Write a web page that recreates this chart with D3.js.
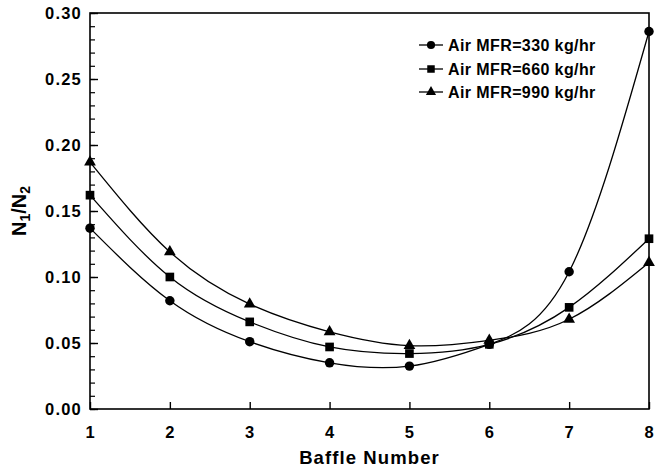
<!DOCTYPE html>
<html><head><meta charset="utf-8">
<script src="https://cdn.jsdelivr.net/npm/d3@7"></script>
<style>body{margin:0;background:#fff}svg{display:block}text{font-family:"Liberation Sans",Arial,sans-serif;font-weight:bold;fill:#000}</style>
</head><body><svg id="c" width="656" height="470"></svg>
<script>
const baffles = [1,2,3,4,5,6,7,8];
const mfr330 = [0.137,0.082,0.051,0.035,0.0325,0.049,0.104,0.286];
const mfr660 = [0.162,0.100,0.066,0.047,0.042,0.049,0.077,0.129];
const mfr990 = [0.187,0.119,0.0795,0.0585,0.048,0.052,0.068,0.111];
const seriesNames = ["Air MFR=330 kg/hr","Air MFR=660 kg/hr","Air MFR=990 kg/hr"];
const seriesSymbols = ["circle","square","triangle"];
const yMajorTicks = [0,0.05,0.10,0.15,0.20,0.25,0.30];

const svg = d3.select("#c");
const L=90,R=649,T=13,B=409;
const x = d3.scaleLinear().domain([1,8]).range([L,R]);
const y = d3.scaleLinear().domain([0,0.30]).range([B,T]);

// frame
svg.append("rect").attr("x",L).attr("y",T).attr("width",R-L).attr("height",B-T)
  .attr("fill","none").attr("stroke","#000").attr("stroke-width",1.6);

// y axis
const yAx = svg.append("g").attr("transform",`translate(${L},0)`)
  .call(d3.axisRight(y).tickValues(d3.range(0,0.3001,0.01)).tickSize(5).tickFormat(""));
yAx.select(".domain").remove();
yAx.selectAll("line").attr("stroke","#000").attr("stroke-width",1.2);
const yMaj = svg.append("g").attr("transform",`translate(${L},0)`)
  .call(d3.axisRight(y).tickValues(yMajorTicks).tickSize(8).tickFormat(""));
yMaj.select(".domain").remove();
yMaj.selectAll("line").attr("stroke","#000").attr("stroke-width",1.4);
svg.append("g").selectAll("text").data(yMajorTicks).join("text")
  .attr("x",L-8).attr("y",d=>y(d)).attr("dy","0.36em").attr("text-anchor","end")
  .attr("font-size",16.5).attr("letter-spacing",1.2).text(d=>d3.format(".2f")(d));

// x axis
const xAx = svg.append("g").attr("transform",`translate(0,${B})`)
  .call(d3.axisTop(x).tickValues(baffles).tickSize(7).tickFormat(""));
xAx.select(".domain").remove();
xAx.selectAll("line").attr("stroke","#000").attr("stroke-width",1.4);
svg.append("g").selectAll("text").data(baffles).join("text")
  .attr("x",d=>x(d)).attr("y",432).attr("dy","0.36em").attr("text-anchor","middle")
  .attr("font-size",16.5).text(d=>d);

svg.append("text").attr("x",(L+R)/2).attr("y",457).attr("dy","0.36em")
  .attr("text-anchor","middle").attr("font-size",18.5).attr("letter-spacing",1.1).text("Baffle Number");

const yl = svg.append("text").attr("transform","translate(26,211) rotate(-90)")
  .attr("text-anchor","middle").attr("font-size",20);
yl.append("tspan").text("N");
yl.append("tspan").attr("font-size",14).attr("dy",4).text("1");
yl.append("tspan").attr("dy",-4).text("/N");
yl.append("tspan").attr("font-size",14).attr("dy",4).text("2");

// series
const data = [mfr330,mfr660,mfr990];
const line = d3.line().x((d,i)=>x(baffles[i])).y(d=>y(d)).curve(d3.curveNatural);
const symType = {circle:d3.symbolCircle,square:d3.symbolSquare,triangle:d3.symbolTriangle};
const symSize = {circle:70,square:75,triangle:60};
data.forEach((vals,k)=>{
  svg.append("path").attr("d",line(vals)).attr("fill","none").attr("stroke","#000").attr("stroke-width",1.3);
  svg.append("g").selectAll("path").data(vals).join("path")
    .attr("transform",(d,i)=>`translate(${x(baffles[i])},${y(d)})`)
    .attr("d",d3.symbol().type(symType[seriesSymbols[k]]).size(symSize[seriesSymbols[k]]))
    .attr("fill","#000");
});

// legend
const legY=[45,69,92];
seriesNames.forEach((n,k)=>{
  const g = svg.append("g");
  g.append("line").attr("x1",419).attr("x2",443).attr("y1",legY[k]).attr("y2",legY[k]).attr("stroke","#000").attr("stroke-width",1.3);
  g.append("path").attr("transform",`translate(431,${legY[k]})`)
    .attr("d",d3.symbol().type(symType[seriesSymbols[k]]).size(symSize[seriesSymbols[k]]*0.75)).attr("fill","#000");
  g.append("text").attr("x",448).attr("y",legY[k]).attr("dy","0.36em").attr("font-size",16).attr("letter-spacing",0.4).text(n);
});
</script></body></html>
